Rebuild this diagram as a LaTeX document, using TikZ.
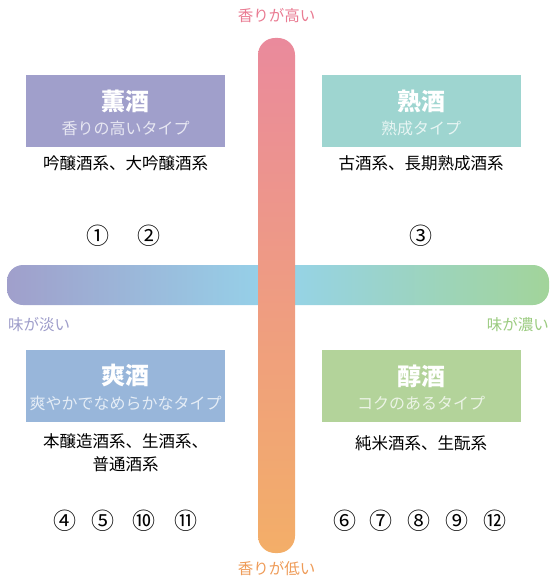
\documentclass[tikz,border=0pt]{standalone}
\usepackage{fontspec}
\setmainfont{Noto Sans CJK JP}
\newfontfamily\jp{Noto Sans CJK JP}
\definecolor{lav}{HTML}{A09FCB}
\definecolor{tealc}{HTML}{9ED5D0}
\definecolor{bluec}{HTML}{98B6DA}
\definecolor{grnc}{HTML}{B3D39A}
\definecolor{skyc}{HTML}{95D3EA}
\definecolor{hgrn}{HTML}{A2D49A}
\definecolor{pinkc}{HTML}{EA8A9C}
\definecolor{orngc}{HTML}{F3AE68}
\definecolor{pinkt}{HTML}{E97B92}
\definecolor{orngt}{HTML}{EE9B58}
\definecolor{lavt}{HTML}{9E9DCA}
\definecolor{grnt}{HTML}{9BCB80}
\begin{document}
\begin{tikzpicture}[x=1pt,y=-1pt,
  box/.style={minimum width=199pt,minimum height=72pt,inner sep=0pt,draw=none},
  ttl/.style={font=\jp\bfseries\fontsize{24}{26}\selectfont,text=white,inner sep=0pt},
  sub/.style={font=\jp\fontsize{16}{18}\selectfont,inner sep=0pt},
  body/.style={font=\jp\fontsize{16.5}{23.5}\selectfont,text=black,inner sep=0pt,align=center},
  num/.style={font=\jp\fontsize{23}{25}\selectfont,text=black,inner sep=0pt},
  axis/.style={font=\jp\fontsize{15.5}{17}\selectfont,inner sep=0pt}]
\useasboundingbox (0,0) rectangle (553,577);
% horizontal axis
\shade[rounded corners=16pt,left color=lav,right color=hgrn,middle color=skyc] (7,265) rectangle (549,305);
% vertical axis
\shade[rounded corners=17pt,top color=pinkc,bottom color=orngc] (258,38) rectangle (295,553);
% axis labels
\node[axis,text=pinkt] (high) at (276.5,16) {香りが高い};
\node[axis,text=orngt] (low) at (276.5,569) {香りが低い};
\node[axis,text=lavt,anchor=west] (light) at (8,325) {味が淡い};
\node[axis,text=grnt,anchor=east] (rich) at (549,325) {味が濃い};
% boxes
\node[box,fill=lav] (kun) at (125.5,111) {};
\node[box,fill=tealc] (juku) at (421,111) {};
\node[box,fill=bluec] (sou) at (125.5,386) {};
\node[box,fill=grnc] (jun) at (421,386) {};
\node[ttl] (kunT) at ([yshift=10pt]kun.center) {薫酒};
\node[sub,text=white!75!lav] (kunS) at ([yshift=-17pt]kun.center) {香りの高いタイプ};
\node[ttl] (jukuT) at ([yshift=10pt]juku.center) {熟酒};
\node[sub,text=white!75!tealc] (jukuS) at ([yshift=-17pt]juku.center) {熟成タイプ};
\node[ttl] (souT) at ([yshift=10pt]sou.center) {爽酒};
\node[sub,text=white!75!bluec] (souS) at ([yshift=-17pt]sou.center) {爽やかでなめらかなタイプ};
\node[ttl] (junT) at ([yshift=10pt]jun.center) {醇酒};
\node[sub,text=white!75!grnc] (junS) at ([yshift=-17pt]jun.center) {コクのあるタイプ};
% descriptions
\node[body] (kunB) at (125.5,163) {吟醸酒系、大吟醸酒系};
\node[body] (jukuB) at (421,163) {古酒系、長期熟成酒系};
\node[body,anchor=north] (souB) at (125.5,433) {本醸造酒系、生酒系、\\普通酒系};
\node[body] (junB) at (421,443) {純米酒系、生酛系};
% numbers
\node[num] (n1) at (98,236) {①};
\node[num] (n2) at (149,236) {②};
\node[num] (n3) at (421,236) {③};
\node[num] (n4) at (65,521) {④};
\node[num] (n5) at (103,521) {⑤};
\node[num] (n10) at (144,521) {⑩};
\node[num] (n11) at (186,521) {⑪};
\node[num] (n6) at (345,521) {⑥};
\node[num] (n7) at (381,521) {⑦};
\node[num] (n8) at (419,521) {⑧};
\node[num] (n9) at (457,521) {⑨};
\node[num] (n12) at (495,521) {⑫};
\end{tikzpicture}
\end{document}
